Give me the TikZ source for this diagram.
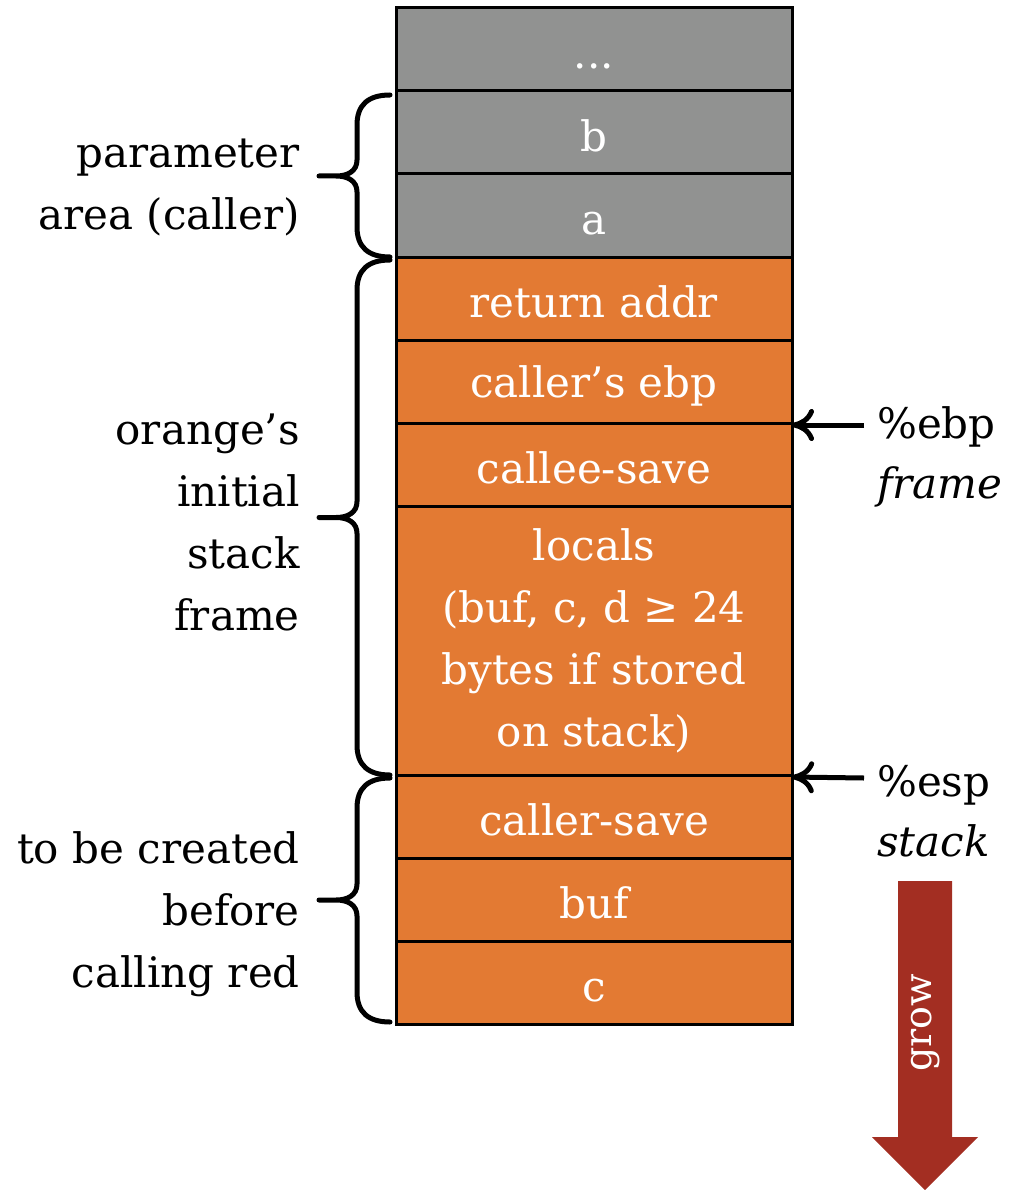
\documentclass[tikz,border=0pt]{standalone}
\usepackage{fontspec}
\setmainfont{DejaVu Serif}
\usetikzlibrary{positioning,arrows.meta}

\definecolor{slotgray}{RGB}{145,146,145}
\definecolor{slotorange}{RGB}{227,122,51}
\definecolor{growred}{RGB}{163,46,34}

\tikzset{
 cell/.style={draw=black,line width=3pt,minimum width=396pt,minimum height=83pt,
  outer sep=0pt,inner sep=0pt,text=white,align=center,font=\fontsize{42}{62}\selectfont},
 slot/.style={cell,execute at begin node={\rule[-3pt]{0pt}{44pt}}},
 grayslot/.style={slot,fill=slotgray},
 orangeslot/.style={slot,fill=slotorange},
 sidelbl/.style={inner sep=0pt,align=right,anchor=east,font=\fontsize{42}{62}\selectfont},
 reglbl/.style={inner sep=0pt,align=left,anchor=west,font=\fontsize{42}{60}\selectfont},
 stackbrace/.style={line width=5pt,line cap=round,line join=round},
 ptr/.style={-{Computer Modern Rightarrow[length=22pt,width=32pt]},line width=5pt}
}

\begin{document}
\begin{tikzpicture}[x=1pt,y=-1pt,node distance=0pt]
\useasboundingbox (0,0) rectangle (1022,1190);

% the stack, top to bottom
\node[grayslot] (dots) at (594,49.5) {...};
\node[grayslot,below=of dots] (pb) {b};
\node[grayslot,below=of pb] (pa) {a};
\node[orangeslot,below=of pa] (ret) {return addr};
\node[orangeslot,below=of ret] (oldebp) {caller’s ebp};
\node[orangeslot,below=of oldebp] (calleesave) {callee-save};
\node[cell,fill=slotorange,minimum height=269pt,below=of calleesave] (locals)
 {locals\\(buf, c, d ≥ 24\\bytes if stored\\on stack)};
\node[orangeslot,below=of locals] (callersave) {caller-save};
\node[orangeslot,below=of callersave] (buf) {buf};
\node[orangeslot,below=of buf] (varc) {c};

% braces on the left
\foreach \t/\b in {95/257,260/775,778/1022}{
 \pgfmathsetmacro{\m}{(\t+\b)/2}
 \draw[stackbrace] (390,\t) .. controls (368,\t) and (357,\t+10) .. (357,\t+30)
  -- (357,\m-16) .. controls (357,\m-5) and (348,\m) .. (336,\m) -- (319,\m)
  -- (336,\m) .. controls (348,\m) and (357,\m+5) .. (357,\m+16)
  -- (357,\b-30) .. controls (357,\b-10) and (368,\b) .. (390,\b);
}

\node[sidelbl] (paramlbl) at (300,187) {parameter\\area (caller)};
\node[sidelbl] (framelbl) at (300,522) {orange’s\\initial\\stack\\frame};
\node[sidelbl] (createlbl) at (300,914) {to be created\\before\\calling red};

% registers
\node[reglbl] (ebplbl) at (877,457) {\%ebp\\\textit{frame}};
\node[reglbl] (esplbl) at (877,811) {\%esp\\\textit{stack}};
\coordinate (ebptail) at (864,425);
\coordinate (esptail) at (864,778);
\draw[ptr] (ebptail) -- ([yshift=-2pt]calleesave.north east);
\draw[ptr] (esptail) -- ([yshift=-2pt]callersave.north east);

% growth direction
\fill[growred] (898,881) -- (952,881) -- (952,1137) -- (978,1137) -- (925,1190)
 -- (872,1137) -- (898,1137) -- cycle;
\node[text=white,rotate=90,font=\fontsize{38}{40}\selectfont] (grow) at (926,1023) {grow};
\end{tikzpicture}
\end{document}
